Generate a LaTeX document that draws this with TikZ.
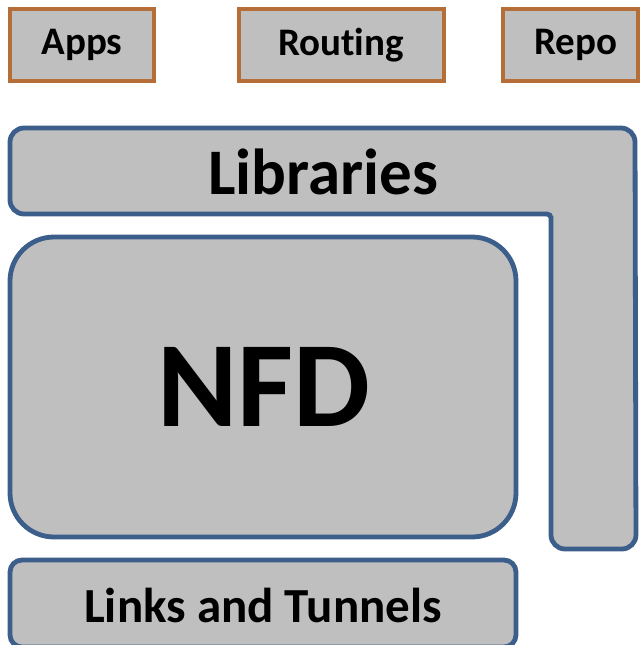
\documentclass[tikz,border=0pt]{standalone}
\usepackage{fontspec}
\setmainfont{Carlito}[Ligatures=CommonOff]
\begin{document}
\begin{tikzpicture}[x=0.5pt,y=-0.5pt,
  layer/.style={draw=layerblue,fill=boxgray,line width=2.4pt},
  tool/.style={draw=toolorange,fill=boxgray,line width=2.2pt},
  lbl/.style={font=\bfseries,text=black,inner sep=0pt}]
\definecolor{boxgray}{HTML}{BFBFBF}
\definecolor{layerblue}{HTML}{3B5E8A}
\definecolor{toolorange}{HTML}{B56E38}
\useasboundingbox (0,0) rectangle (640,645);

% top row of tools
\draw[tool] (10,9) rectangle (154,81);
\node[lbl,font=\fontsize{19.5}{22}\bfseries] (apps) at (82,45) {Apps};
\draw[tool] (239,9) rectangle (444,81);
\node[lbl,font=\fontsize{19.5}{22}\bfseries] (routing) at (341,45) {Routing};
\draw[tool] (503,9) rectangle (638,81);
\node[lbl,font=\fontsize{19.5}{22}\bfseries] (repo) at (576,45) {Repo};

% libraries: horizontal bar plus right-hand leg
\draw[layer,rounded corners=7pt] (10,128) -- (635,128) -- (636,549) -- (551,549)
  -- (551,230) [rounded corners=2pt] -- (551,214) [rounded corners=7pt] -- (10,214) -- cycle;
\node[lbl,font=\fontsize{32.5}{36}\bfseries] (libs) at (323,172) {Libraries};

% forwarding daemon
\draw[layer,rounded corners=22pt] (10,237) rectangle (516,537);
\node[lbl,font=\fontsize{61}{66}\bfseries] (nfd) at (264,387) {NFD};

% links and tunnels
\draw[layer,rounded corners=6pt] (10,560) rectangle (516,647);
\node[lbl,font=\fontsize{24.5}{28}\bfseries] (links) at (263,605) {Links and Tunnels};
\end{tikzpicture}
\end{document}
